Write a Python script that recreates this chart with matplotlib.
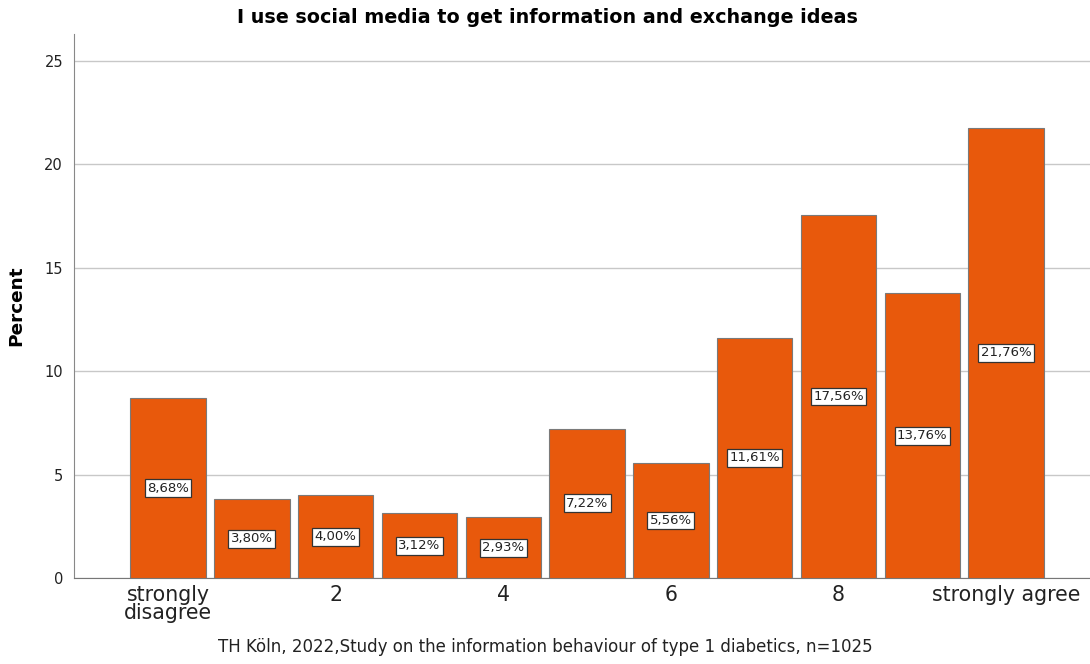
import matplotlib
matplotlib.use("Agg")
import matplotlib.pyplot as plt
import numpy as np

categories = ["strongly\ndisagree", "1", "2", "3", "4", "5", "6", "7", "8", "9", "strongly agree"]
percent = [8.68, 3.80, 4.00, 3.12, 2.93, 7.22, 5.56, 11.61, 17.56, 13.76, 21.76]
shown_ticks = [0, 2, 4, 6, 8, 10]

bar_color = "#E8590C"

fig = plt.figure(figsize=(10.9, 6.64), dpi=100)
ax = fig.add_axes([0.068, 0.1295, 0.932, 0.8193])

x = np.arange(len(categories))
ax.bar(x, percent, width=0.9, color=bar_color, edgecolor="#7a7a7a", linewidth=0.8, zorder=3)

for xi, v in zip(x, percent):
    ax.text(xi, v / 2, f"{v:.2f}%".replace(".", ","), ha="center", va="center",
            fontsize=9.5, color="#222222", zorder=4,
            bbox=dict(boxstyle="square,pad=0.18", facecolor="white", edgecolor="#333333", linewidth=0.9))

ax.set_xlim(-1.12, 11.0)
ax.set_ylim(0, 26.3)
ax.set_yticks([0, 5, 10, 15, 20, 25])
ax.set_xticks(shown_ticks)
ax.set_xticklabels([categories[i] for i in shown_ticks], fontsize=14.8, linespacing=0.9)
ax.tick_params(axis="both", length=0, colors="#222222")
ax.tick_params(axis="y", labelsize=10.5, pad=8)
ax.tick_params(axis="x", pad=5)
ax.grid(axis="y", color="#c8c8c8", linewidth=1, zorder=0)

for s in ["top", "right"]:
    ax.spines[s].set_visible(False)
ax.spines["left"].set_color("#888888")
ax.spines["bottom"].set_color("#777777")

ax.set_ylabel("Percent", fontsize=13.3, fontweight="bold", labelpad=14)

# title is centred on the whole figure, not on the axes
fig.text(0.502, 0.973, "I use social media to get information and exchange ideas",
         ha="center", va="center", fontsize=13.8, fontweight="bold")

fig.text(0.5, 0.012, "TH Köln, 2022,Study on the information behaviour of type 1 diabetics, n=1025",
         ha="center", va="bottom", fontsize=12, color="#222222")

fig.savefig("out.png", dpi=100)
